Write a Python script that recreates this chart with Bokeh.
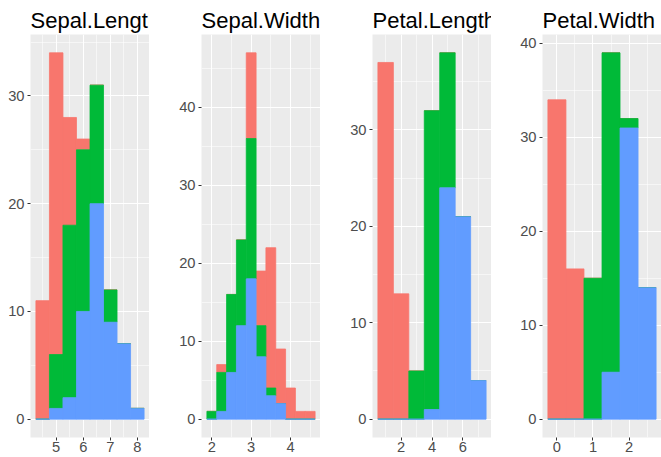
from bokeh.plotting import figure
from bokeh.layouts import row
from bokeh.models import ColumnDataSource, FixedTicker, Range1d
from bokeh.transform import stack
from bokeh.embed import file_html
from bokeh.resources import INLINE

# ---- data (counts per bin) ----
species_order = ["virginica", "versicolor", "setosa"]  # bottom -> top of stack
species_colors = {"setosa": "#F8766D", "versicolor": "#00BA38", "virginica": "#619CFF"}

sl_bins = [4.5, 5.0, 5.5, 6.0, 6.5, 7.0, 7.5, 8.0]
sl_setosa = [11, 28, 10, 1, 0, 0, 0, 0]
sl_versicolor = [0, 5, 16, 15, 11, 3, 0, 0]
sl_virginica = [0, 1, 2, 10, 20, 9, 7, 1]
sl_binwidth = 0.5

sw_bins = [2.0, 2.25, 2.5, 2.75, 3.0, 3.25, 3.5, 3.75, 4.0, 4.25, 4.5]
sw_setosa = [0, 1, 0, 0, 11, 7, 18, 7, 4, 1, 1]
sw_versicolor = [1, 5, 10, 11, 18, 4, 1, 0, 0, 0, 0]
sw_virginica = [0, 1, 6, 12, 18, 8, 3, 2, 0, 0, 0]
sw_binwidth = 0.25

pl_bins = [1, 2, 3, 4, 5, 6, 7]
pl_setosa = [37, 13, 0, 0, 0, 0, 0]
pl_versicolor = [0, 0, 5, 31, 14, 0, 0]
pl_virginica = [0, 0, 0, 1, 24, 21, 4]
pl_binwidth = 1.0

pw_bins = [0.0, 0.5, 1.0, 1.5, 2.0, 2.5]
pw_setosa = [34, 16, 0, 0, 0, 0]
pw_versicolor = [0, 0, 15, 34, 1, 0]
pw_virginica = [0, 0, 0, 5, 31, 14]
pw_binwidth = 0.5

# tick labels
sl_xticks, sl_xminor = [5, 6, 7, 8], [4.5, 5.5, 6.5, 7.5, 8.5]
sw_xticks, sw_xminor = [2, 3, 4], [1.5, 2.5, 3.5, 4.5]
pl_xticks, pl_xminor = [2, 4, 6], [1, 3, 5, 7]
pw_xticks, pw_xminor = [0, 1, 2], [-0.5, 0.5, 1.5, 2.5]
y30_ticks, y30_minor = [0, 10, 20, 30], [5, 15, 25, 35]
y40_ticks, y40_minor = [0, 10, 20, 30, 40], [5, 15, 25, 35, 45]

FONT = "Liberation Sans"


def panel(title, bins, bw, setosa, versicolor, virginica,
          xt, xm, yt, ym, width, left):
    totals = [a + b + c for a, b, c in zip(setosa, versicolor, virginica)]
    x0, x1 = min(bins) - bw / 2, max(bins) + bw / 2
    xpad = 0.05 * (x1 - x0)
    ymax = max(totals)
    ypad = 0.05 * ymax
    p = figure(width=width, height=457, output_backend="svg", toolbar_location=None,
               x_range=Range1d(x0 - xpad, x1 + xpad), y_range=Range1d(-ypad, ymax + ypad),
               min_border_left=left, min_border_right=0, min_border_top=34,
               min_border_bottom=20, title=title)
    p.title.text_font = FONT
    p.title.text_font_size = "22px"
    p.title.text_font_style = "normal"
    p.title.text_color = "black"
    p.title.align = "left"
    p.title.offset = 0
    p.title.standoff = 3
    p.background_fill_color = "#EBEBEB"
    p.border_fill_color = "white"
    p.outline_line_color = None

    p.xaxis.ticker = FixedTicker(ticks=xt, minor_ticks=xm)
    p.yaxis.ticker = FixedTicker(ticks=yt, minor_ticks=ym)
    for ax in (p.xaxis[0], p.yaxis[0]):
        ax.axis_line_color = None
        ax.major_tick_line_color = "#333333"
        ax.major_tick_out = 3
        ax.major_tick_in = 0
        ax.minor_tick_line_color = None
        ax.major_label_text_font = FONT
        ax.major_label_text_font_size = "14.7px"
        ax.major_label_text_color = "#4D4D4D"
    p.xaxis.major_label_standoff = 0
    p.yaxis.major_label_standoff = 2
    for g in (p.xgrid[0], p.ygrid[0]):
        g.grid_line_color = "white"
        g.grid_line_width = 1.1
        g.minor_grid_line_color = "white"
        g.minor_grid_line_width = 0.55

    src = ColumnDataSource(dict(x=bins, setosa=setosa, versicolor=versicolor,
                                virginica=virginica))
    for i in reversed(range(len(species_order))):
        name = species_order[i]
        bottom = stack(*species_order[:i]) if i > 0 else 0
        top = stack(*species_order[:i + 1])
        c = species_colors[name]
        p.vbar(x="x", width=bw, bottom=bottom, top=top, source=src,
               fill_color=c, line_color=c, line_width=0.8)
    return p


p1 = panel("Sepal.Length", sl_bins, sl_binwidth, sl_setosa, sl_versicolor, sl_virginica,
           sl_xticks, sl_xminor, y30_ticks, y30_minor, 149, 30)
p2 = panel("Sepal.Width", sw_bins, sw_binwidth, sw_setosa, sw_versicolor, sw_virginica,
           sw_xticks, sw_xminor, y40_ticks, y40_minor, 171, 52)
p3 = panel("Petal.Length", pl_bins, pl_binwidth, pl_setosa, pl_versicolor, pl_virginica,
           pl_xticks, pl_xminor, y30_ticks, y30_minor, 171, 52)
p4 = panel("Petal.Width", pw_bins, pw_binwidth, pw_setosa, pw_versicolor, pw_virginica,
           pw_xticks, pw_xminor, y40_ticks, y40_minor, 170, 51)

layout = row(p1, p2, p3, p4)
open("out.html", "w").write(file_html(layout, INLINE))
